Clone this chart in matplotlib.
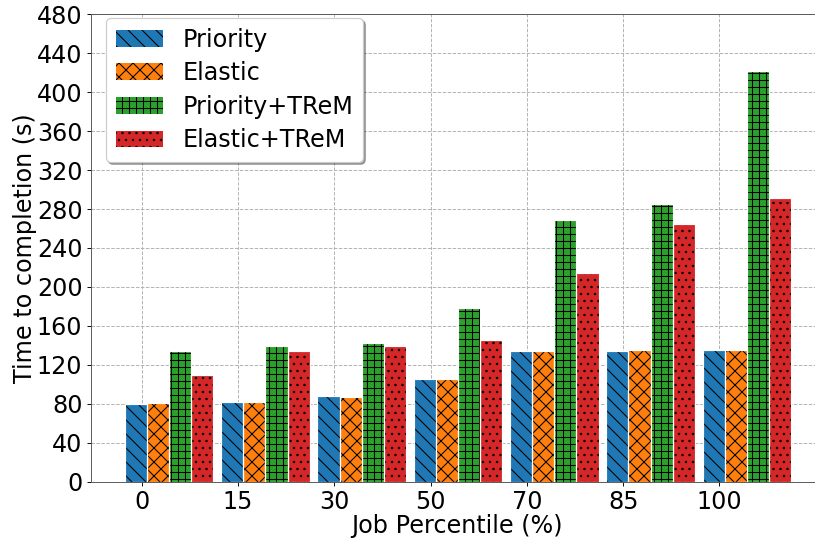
import numpy as np
import matplotlib.pyplot as plt

percentiles = ['0', '15', '30', '50', '70', '85', '100']
priority = [80, 82, 88, 105, 134, 134, 135]
elastic = [81, 82, 87, 105, 134, 135, 135]
priority_trem = [134, 139, 142, 178, 269, 285, 422]
elastic_trem = [110, 134, 139, 145, 214, 265, 291]

series = [priority, elastic, priority_trem, elastic_trem]
names = ['Priority', 'Elastic', 'Priority+TReM', 'Elastic+TReM']
colors = ['tab:blue', 'tab:orange', 'tab:green', 'tab:red']
hatches = ['\\\\', 'xx', '++', '..']

DPI = 84
FS = 20.5
plt.rcParams['hatch.linewidth'] = 0.9
plt.rcParams['font.size'] = FS

fig = plt.figure(figsize=(816 / DPI, 540 / DPI), dpi=DPI)
# axes run slightly past the right edge of the canvas
ax = fig.add_axes([0.111, 0.108, 0.897, 0.8655])

ind = np.arange(len(percentiles))
width = 0.23
offsets = [-0.06, 0.17, 0.40, 0.63]

for vals, name, c, h, off in zip(series, names, colors, hatches, offsets):
    ax.bar(ind + off, vals, width, color=c, hatch=h, edgecolor='black',
           linewidth=0, label=name, zorder=3)
    # white outline on top of the hatched fill
    ax.bar(ind + off, vals, width, fill=False, edgecolor='white',
           linewidth=1.0, zorder=4)

ax.set_xticks(ind)
ax.set_xticklabels(percentiles)
ax.set_yticks(np.arange(0, 481, 40))
ax.set_ylim(0, 480)
ax.set_xlim(-0.53, 7.07)
ax.grid(True, linestyle='--', color='#b0b0b0', linewidth=0.8, zorder=0)
ax.set_axisbelow(True)
ax.spines['right'].set_visible(False)
for s in ['left', 'bottom', 'top']:
    ax.spines[s].set_color('#555555')

ax.set_xlabel('Job Percentile (%)', fontsize=FS, labelpad=0)
ax.set_ylabel('Time to completion (s)', fontsize=FS, labelpad=0)

ax.legend(loc='upper left', bbox_to_anchor=(0.021, 0.992), borderaxespad=0,
          fontsize=FS, shadow=True, framealpha=1,
          handlelength=2.0, labelspacing=0.4)

fig.savefig('out.png', dpi=DPI)
